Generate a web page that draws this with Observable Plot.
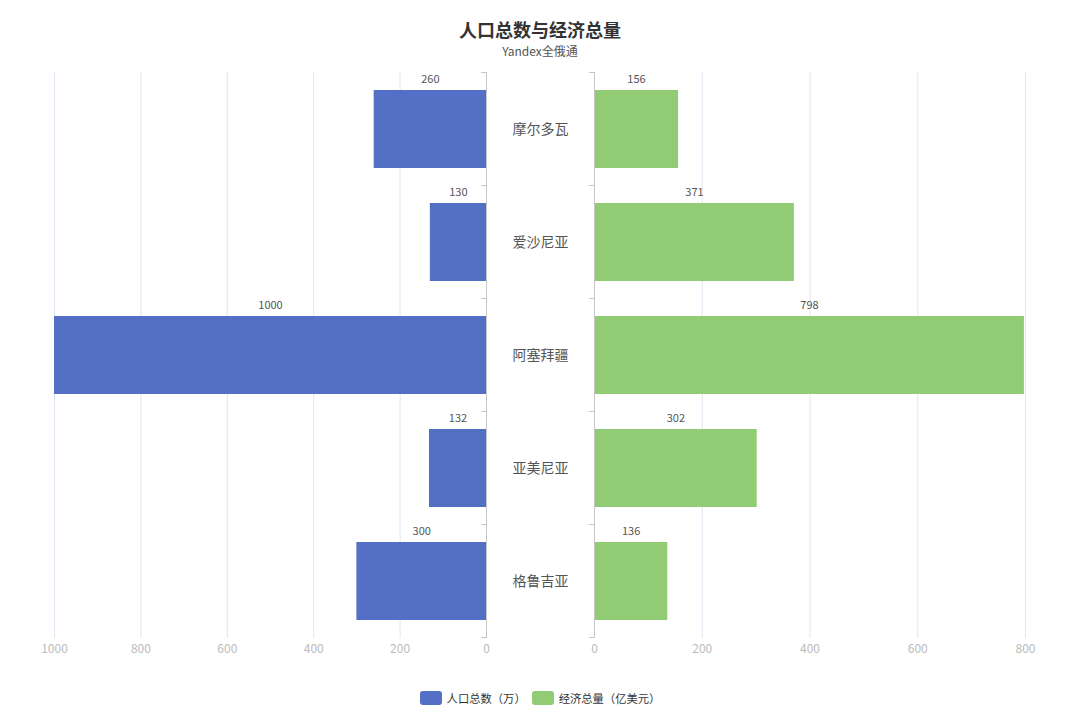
<!DOCTYPE html>
<html>
<head>
<meta charset="utf-8">
<script src="https://cdn.jsdelivr.net/npm/d3@7"></script>
<script src="https://cdn.jsdelivr.net/npm/@observablehq/plot@0.6"></script>
<style>
  html, body { margin: 0; padding: 0; background: #fff; }
  #root { position: relative; width: 1080px; height: 719px; overflow: hidden;
          font-family: "Noto Sans CJK SC", "Noto Sans", sans-serif; }
  #title { position: absolute; top: 19px; left: 0; width: 1080px; text-align: center;
           font-size: 18px; font-weight: bold; color: #333; line-height: 20px; }
  #subtitle { position: absolute; top: 44px; left: 0; width: 1080px; text-align: center;
              font-size: 12px; color: #555; line-height: 14px; }
  .plotbox { position: absolute; top: 60px; }
  #legend { position: absolute; top: 690px; left: 0; width: 1080px; display: flex;
            justify-content: center; align-items: center; font-size: 11.3px; color: #333; }
  .item { display: flex; align-items: center; margin: 0 3px; }
  .sw { width: 22px; height: 14px; border-radius: 3px; margin-right: 5px; }
</style>
</head>
<body>
<div id="root">
  <div id="title"></div>
  <div id="subtitle"></div>
  <div class="plotbox" id="left" style="left:0px"></div>
  <div class="plotbox" id="right" style="left:540px"></div>
  <div id="legend"></div>
</div>
<script>
const titleText = "人口总数与经济总量";
const subtitleText = "Yandex全俄通";
const categories = ["摩尔多瓦", "爱沙尼亚", "阿塞拜疆", "亚美尼亚", "格鲁吉亚"];
const population = [260, 130, 1000, 132, 300];
const economy = [156, 371, 798, 302, 136];
const seriesNames = ["人口总数（万）", "经济总量（亿美元）"];
const seriesColors = ["#5470C6", "#91CC75"];
const leftTicks = [0, 200, 400, 600, 800, 1000];
const rightTicks = [0, 200, 400, 600, 800];

document.getElementById("title").textContent = titleText;
document.getElementById("subtitle").textContent = subtitleText;

const axisColor = "#c6c6c6";
const gridColor = "#E0E6F1";
const W = 540, H = 610, MT = 12, MB = 32;
const step = (H - MT - MB) / categories.length;
const padInner = 0.31, padOuter = 0.155;
const labelDy = -(step * (1 - padInner) / 2 + 11);

function bandTicks() {
  return (index, scales, values, dimensions) => {
    const y = scales.y, x = scales.x;
    const x0 = x(0);
    const st = y.step ? y.step() : step;
    const bw = y.bandwidth ? y.bandwidth() : st * (1 - padInner);
    const ys = categories.map(c => y(c) + bw / 2 - st / 2);
    ys.push(y(categories[categories.length - 1]) + bw / 2 + st / 2);
    const g = d3.create("svg:g");
    g.selectAll("line").data(ys).join("line")
      .attr("x1", x0 - 5).attr("x2", x0)
      .attr("y1", d => d).attr("y2", d => d)
      .attr("stroke", axisColor);
    return g.node();
  };
}

function makePlot(values, domainMax, ticks, color, reverse, mLeft, mRight, withCats) {
  const data = categories.map((c, i) => ({name: c, value: values[i]}));
  const marks = [
    Plot.ruleX(ticks.filter(t => t !== 0), {x: d => d, stroke: gridColor}),
    Plot.barX(data, {x: "value", y: "name", fill: color}),
    Plot.text(data, {x: d => d.value / 2, y: "name", text: d => String(d.value),
      dy: labelDy, fill: "#555", fontSize: 11}),
    Plot.ruleX([0], {stroke: axisColor}),
    bandTicks()
  ];
  if (withCats) {
    marks.push(Plot.text(data, {x: 0, y: "name", text: "name", dx: 54,
      fill: "#555", fontSize: 14}));
  }
  return Plot.plot({
    width: W, height: H,
    marginTop: MT, marginBottom: MB, marginLeft: mLeft, marginRight: mRight,
    style: {fontFamily: '"Noto Sans CJK SC", "Noto Sans", sans-serif', background: "transparent", overflow: "visible"},
    x: {domain: [0, domainMax], reverse: reverse, ticks: ticks, tickSize: 0, tickPadding: 6,
        tickFormat: d => String(d), label: null, line: false},
    y: {domain: categories, axis: null, paddingInner: padInner, paddingOuter: padOuter, align: 0.5},
    marks
  });
}

const leftPlot = makePlot(population, 1000, leftTicks, seriesColors[0], true, 54, 54, true);
const rightPlot = makePlot(economy, 800, rightTicks, seriesColors[1], false, 54, 55, false);
for (const p of [leftPlot, rightPlot]) {
  d3.select(p).selectAll('g[aria-label="x-axis tick label"] text, g[aria-label="x-axis"] text')
    .attr("fill", "#bbb").style("font-size", "12px");
  d3.select(p).selectAll('g[aria-label="x-axis tick label"], g[aria-label="x-axis"]')
    .attr("fill", "#bbb").style("font-size", "12px");
}
document.getElementById("left").appendChild(leftPlot);
document.getElementById("right").appendChild(rightPlot);

const legend = document.getElementById("legend");
seriesNames.forEach((n, i) => {
  const it = document.createElement("div");
  it.className = "item";
  const sw = document.createElement("div");
  sw.className = "sw";
  sw.style.background = seriesColors[i];
  const t = document.createElement("span");
  t.textContent = n;
  it.appendChild(sw); it.appendChild(t);
  legend.appendChild(it);
});
</script>
</body>
</html>
